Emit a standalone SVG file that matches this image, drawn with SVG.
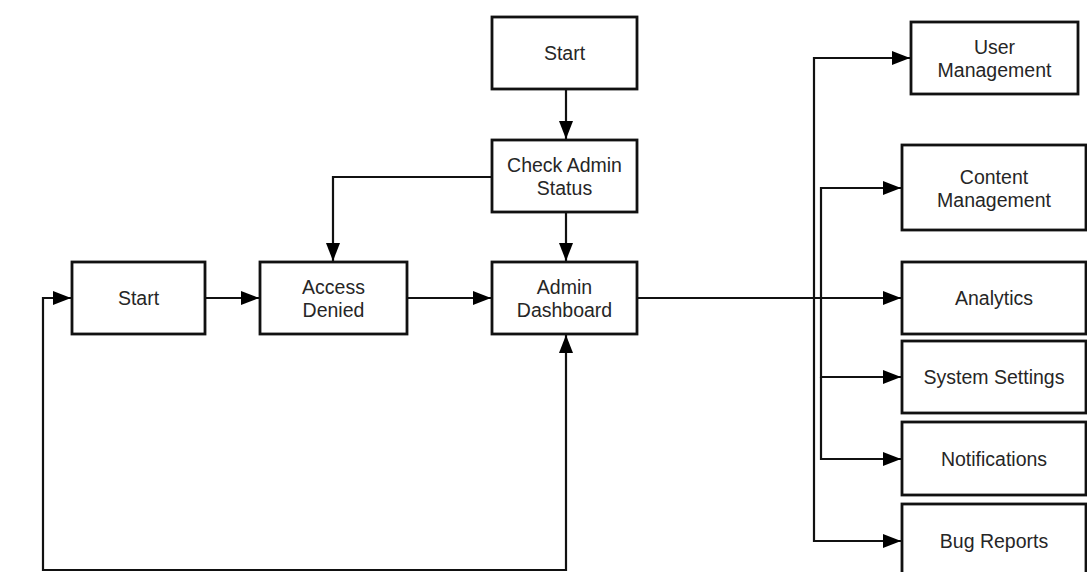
<svg xmlns="http://www.w3.org/2000/svg" width="1087" height="572" viewBox="0 0 1087 572">
<style>
.box{fill:#fff;stroke:#111;stroke-width:2.8}
.lbl{font-family:"Liberation Sans",Arial,sans-serif;font-size:19.5px;fill:#262626;text-anchor:middle}
.con{fill:none;stroke:#111;stroke-width:2.2}
</style>
<defs>
<marker id="arr" viewBox="0 0 18 14" refX="18" refY="7" markerWidth="18" markerHeight="14" markerUnits="userSpaceOnUse" orient="auto">
<path d="M0,0 L18,7 L0,14 Z" fill="#000"/>
</marker>
</defs>
<rect width="1087" height="572" fill="#fff"/>
<g id="connectors">
<path class="con" d="M566,89 V139" marker-end="url(#arr)"/>
<path class="con" d="M566,212 V261" marker-end="url(#arr)"/>
<path class="con" d="M492,177 H333 V261" marker-end="url(#arr)"/>
<path class="con" d="M205,298 H259" marker-end="url(#arr)"/>
<path class="con" d="M407,298 H491" marker-end="url(#arr)"/>
<path class="con" d="M637,298 H901" marker-end="url(#arr)"/>
<path class="con" d="M300,570 H566 V335" marker-end="url(#arr)"/>
<path class="con" d="M300,570 H43 V298 H71" marker-end="url(#arr)"/>
<path class="con" d="M814,298 V58 H910" marker-end="url(#arr)"/>
<path class="con" d="M814,298 V541 H901" marker-end="url(#arr)"/>
<path class="con" d="M821,298 V188 H901" marker-end="url(#arr)"/>
<path class="con" d="M821,298 V377 H901" marker-end="url(#arr)"/>
<path class="con" d="M821,377 V459 H901" marker-end="url(#arr)"/>
</g>
<g id="start-top"><rect class="box" x="492" y="17" width="145" height="72"/><text class="lbl" x="564.5" y="60">Start</text></g>
<g id="check-admin"><rect class="box" x="492" y="140" width="145" height="72"/><text class="lbl" x="564.5" y="172">Check Admin</text><text class="lbl" x="564.5" y="195">Status</text></g>
<g id="start-left"><rect class="box" x="72" y="262" width="133" height="72"/><text class="lbl" x="138.5" y="305">Start</text></g>
<g id="access-denied"><rect class="box" x="260" y="262" width="147" height="72"/><text class="lbl" x="333.5" y="294">Access</text><text class="lbl" x="333.5" y="317">Denied</text></g>
<g id="admin-dashboard"><rect class="box" x="492" y="262" width="145" height="72"/><text class="lbl" x="564.5" y="294">Admin</text><text class="lbl" x="564.5" y="317">Dashboard</text></g>
<g id="user-management"><rect class="box" x="911" y="22" width="167" height="72"/><text class="lbl" x="994.5" y="54">User</text><text class="lbl" x="994.5" y="77">Management</text></g>
<g id="content-management"><rect class="box" x="902" y="145" width="184" height="85"/><text class="lbl" x="994" y="184">Content</text><text class="lbl" x="994" y="207">Management</text></g>
<g id="analytics"><rect class="box" x="902" y="262" width="184" height="72"/><text class="lbl" x="994" y="305">Analytics</text></g>
<g id="system-settings"><rect class="box" x="902" y="341" width="184" height="72"/><text class="lbl" x="994" y="384">System Settings</text></g>
<g id="notifications"><rect class="box" x="902" y="422" width="184" height="73"/><text class="lbl" x="994" y="466">Notifications</text></g>
<g id="bug-reports"><rect class="box" x="902" y="504" width="184" height="80"/><text class="lbl" x="994" y="548">Bug Reports</text></g>
</svg>
